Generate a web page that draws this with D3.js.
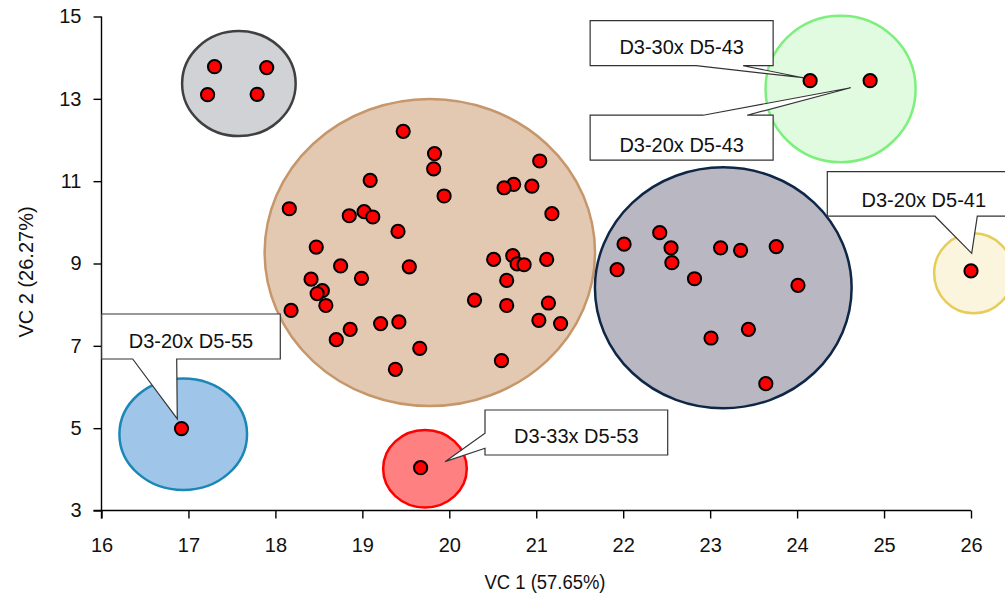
<!DOCTYPE html>
<html>
<head>
<meta charset="utf-8">
<script src="https://cdn.jsdelivr.net/npm/d3@7"></script>
<style>
  html, body { margin: 0; padding: 0; background: #fff; }
  svg { display: block; }
  text { font-family: "Liberation Sans", Arial, sans-serif; fill: #111; }
</style>
</head>
<body>
<svg id="chart" width="1005" height="594"></svg>
<script>
// ---------- data ----------
const xTicks = [16, 17, 18, 19, 20, 21, 22, 23, 24, 25, 26];
const yTicks = [3, 5, 7, 9, 11, 13, 15];
const xTitle = "VC 1 (57.65%)";
const yTitle = "VC 2 (26.27%)";

// group ellipses: [centerX, centerY, radiusX, radiusY] in data units
const grayGroup   = [17.58, 13.37, 0.653, 1.275];
const tanGroup    = [19.776, 9.267, 1.90, 3.729];
const greenGroup  = [24.50, 13.24, 0.863, 1.78];
const navyGroup   = [23.151, 8.41, 1.476, 2.927];
const yellowGroup = [26.03, 8.762, 0.454, 0.972];
const blueGroup   = [16.94, 4.853, 0.734, 1.355];
const redGroup    = [19.72, 4.015, 0.481, 0.94];

// sample scores [VC1, VC2]
const grayPoints = [[17.30, 13.78], [17.90, 13.76], [17.22, 13.10], [17.79, 13.11]];
const tanPoints = [
  [19.47, 12.21], [19.83, 11.67], [19.82, 11.30], [21.04, 11.49], [19.09, 11.02],
  [20.74, 10.92], [20.63, 10.84], [20.95, 10.88], [19.94, 10.64], [18.16, 10.33],
  [21.18, 10.21], [18.85, 10.16], [19.02, 10.26], [19.12, 10.13], [19.41, 9.78],
  [18.47, 9.40], [18.75, 8.94], [19.54, 8.92], [20.51, 9.10], [20.73, 9.19],
  [20.78, 8.99], [20.86, 8.97], [21.12, 9.10], [20.66, 8.59], [18.41, 8.62],
  [18.99, 8.64], [18.54, 8.34], [18.48, 8.27], [18.58, 7.98], [18.18, 7.86],
  [20.29, 8.11], [20.66, 7.98], [21.14, 8.04], [21.03, 7.62], [21.28, 7.54],
  [18.86, 7.40], [19.21, 7.54], [19.42, 7.58], [18.70, 7.15], [19.66, 6.94],
  [20.60, 6.64], [19.38, 6.43]
];
const navyPoints = [
  [22.01, 9.47], [21.93, 8.85], [22.42, 9.75], [22.55, 9.38], [22.56, 9.02],
  [22.82, 8.63], [23.12, 9.38], [23.35, 9.32], [23.76, 9.41], [24.01, 8.47],
  [23.44, 7.40], [23.01, 7.19], [23.64, 6.08]
];
const greenPoints  = [[24.15, 13.44], [24.84, 13.44]];
const yellowPoints = [[26.00, 8.82]];
const bluePoints   = [[16.92, 4.99]];
const redPoints    = [[19.67, 4.04]];

// callout labels and the sample each one points at
const calloutTexts  = ["D3-30x D5-43", "D3-20x D5-43", "D3-20x D5-41", "D3-20x D5-55", "D3-33x D5-53"];
const calloutPoints = [greenPoints[0], greenPoints[1], yellowPoints[0], bluePoints[0], redPoints[0]];

// ---------- layout / style ----------
const groups = [
  { e: grayGroup,   pts: grayPoints,   fill: "#d1d2d5", stroke: "#404040" },
  { e: tanGroup,    pts: tanPoints,    fill: "#e3c9b2", stroke: "#c6976b" },
  { e: greenGroup,  pts: greenPoints,  fill: "#e1fbe1", stroke: "#7def7d" },
  { e: navyGroup,   pts: navyPoints,   fill: "#b8b7c2", stroke: "#0f2746" },
  { e: yellowGroup, pts: yellowPoints, fill: "#faf5dc", stroke: "#e6cd57" },
  { e: blueGroup,   pts: bluePoints,   fill: "#9fc5e8", stroke: "#1a87b5" },
  { e: redGroup,    pts: redPoints,    fill: "#ff8080", stroke: "#ff0000" }
];

// box: [dx, dy, w, h] from the sample's pixel; wedge: side + two offsets along side; tip: offset from sample; textDy baseline from box top
const calloutLayout = [
  { box: [-220, -60, 183, 45], side: "bottom", base: [106, 153], tip: [-7, -3], textDy: 33.5 },
  { box: [-280, 34.5, 183, 45], side: "top", base: [113, 157], tip: [-19.5, 7], textDy: 36.5 },
  { box: [-143.7, -99.2, 193, 44.5], side: "bottom", base: [107.7, 150], tip: [0.7, -17.6], textDy: 35 },
  { box: [-79.8, -114.6, 178.6, 45], side: "bottom", base: [31, 75], tip: [-4.2, -9.6], textDy: 33.7 },
  { box: [64.4, -57.7, 182.7, 45], side: "left", base: [23.3, 38.3], tip: [24.4, -6], textDy: 33.3 }
];

const svg = d3.select("#chart");
const x = d3.scaleLinear().domain([16, 26]).range([101.5, 971]);
const y = d3.scaleLinear().domain([3, 15]).range([510.5, 16.5]);

// ---------- ellipses ----------
svg.append("g").selectAll("ellipse").data(groups).join("ellipse")
  .attr("cx", d => x(d.e[0]))
  .attr("cy", d => y(d.e[1]))
  .attr("rx", d => x(d.e[0] + d.e[2]) - x(d.e[0]))
  .attr("ry", d => y(d.e[1]) - y(d.e[1] + d.e[3]))
  .attr("fill", d => d.fill)
  .attr("stroke", d => d.stroke)
  .attr("stroke-width", 2.5);

// ---------- axes ----------
const fmt = d3.format("d");
const xAxis = svg.append("g").attr("transform", `translate(0,${y(3)})`)
  .call(d3.axisBottom(x).tickValues(xTicks).tickFormat(fmt).tickSize(8).tickSizeOuter(0).tickPadding(19));
const yAxis = svg.append("g").attr("transform", `translate(${x(16)},0)`)
  .call(d3.axisLeft(y).tickValues(yTicks).tickFormat(fmt).tickSize(8).tickSizeOuter(0).tickPadding(12));
[xAxis, yAxis].forEach(a => {
  a.select(".domain").attr("stroke", "#000").attr("stroke-width", 1.4);
  a.selectAll(".tick line").attr("stroke", "#000").attr("stroke-width", 1.4);
  a.selectAll(".tick text").attr("font-size", 20).attr("font-family", "'Liberation Sans', Arial, sans-serif").attr("fill", "#111");
});
// extend domains so axes cross at the origin like the reference
xAxis.select(".domain").attr("d", `M${x(16) - 8},0H${x(26)}`);
yAxis.select(".domain").attr("d", `M0,${y(15)}V${y(3) + 8}`);

svg.append("text").attr("x", 545).attr("y", 589)
  .attr("text-anchor", "middle").attr("font-size", 20)
  .attr("textLength", 121).attr("lengthAdjust", "spacingAndGlyphs")
  .text(xTitle);
svg.append("text").attr("transform", "translate(33,272) rotate(-90)")
  .attr("text-anchor", "middle").attr("font-size", 20)
  .text(yTitle);

// ---------- points ----------
const allPts = groups.flatMap(g => g.pts);
svg.append("g").selectAll("circle").data(allPts).join("circle")
  .attr("cx", d => x(d[0]))
  .attr("cy", d => y(d[1]))
  .attr("r", 6.6)
  .attr("fill", "#ff0000")
  .attr("stroke", "#000")
  .attr("stroke-width", 2);

// ---------- callouts ----------
const cg = svg.append("g");
calloutTexts.forEach((t, i) => {
  const L = calloutLayout[i];
  const p = calloutPoints[i];
  const px = x(p[0]), py = y(p[1]);
  const bx = px + L.box[0], by = py + L.box[1], bw = L.box[2], bh = L.box[3];
  const tx = px + L.tip[0], ty = py + L.tip[1];
  let d;
  if (L.side === "bottom") {
    d = `M${bx},${by}H${bx + bw}V${by + bh}H${bx + L.base[1]}L${tx},${ty}L${bx + L.base[0]},${by + bh}H${bx}Z`;
  } else if (L.side === "top") {
    d = `M${bx},${by}H${bx + L.base[0]}L${tx},${ty}L${bx + L.base[1]},${by}H${bx + bw}V${by + bh}H${bx}Z`;
  } else {
    d = `M${bx},${by}H${bx + bw}V${by + bh}H${bx}V${by + L.base[1]}L${tx},${ty}L${bx},${by + L.base[0]}Z`;
  }
  cg.append("path").attr("d", d)
    .attr("fill", "#fff").attr("stroke", "#333").attr("stroke-width", 1.2);
  cg.append("text").attr("x", bx + bw / 2).attr("y", by + L.textDy)
    .attr("text-anchor", "middle").attr("font-size", 20)
    .text(t);
});
</script>
</body>
</html>
